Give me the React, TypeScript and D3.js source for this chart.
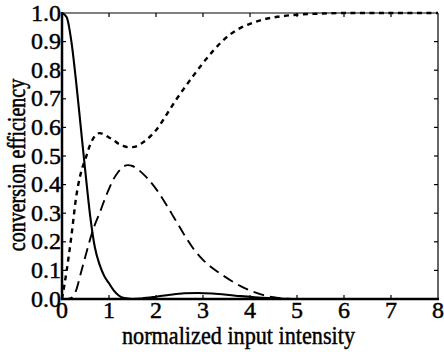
import React from "react";
import * as d3 from "d3";

const solidX = [0, 0.1, 0.2, 0.3, 0.4, 0.5, 0.6, 0.7, 0.8, 0.9, 1.0, 1.1, 1.2, 1.3, 1.5, 1.7, 2.0, 2.3, 2.6, 2.9, 3.2, 3.5, 3.8, 4.1, 4.4, 4.7, 5.0, 6, 7, 8];
const solidY = [1.0, 0.985, 0.9, 0.76, 0.6, 0.44, 0.29, 0.18, 0.12, 0.08, 0.055, 0.03, 0.013, 0.004, 0.0, 0.002, 0.008, 0.015, 0.02, 0.021, 0.019, 0.015, 0.01, 0.006, 0.003, 0.001, 0, 0, 0, 0];

const dashX = [0, 0.1, 0.2, 0.3, 0.4, 0.5, 0.6, 0.7, 0.8, 0.9, 1.0, 1.1, 1.2, 1.3, 1.4, 1.5, 1.6, 1.8, 2.0, 2.2, 2.4, 2.6, 2.8, 3.0, 3.2, 3.4, 3.6, 3.8, 4.0, 4.2, 4.4, 4.6, 4.8, 5.0, 6, 7, 8];
const dashY = [0, 0.0, 0.004, 0.03, 0.09, 0.15, 0.21, 0.26, 0.3, 0.345, 0.385, 0.42, 0.445, 0.462, 0.468, 0.465, 0.455, 0.425, 0.385, 0.335, 0.28, 0.225, 0.175, 0.137, 0.108, 0.085, 0.064, 0.045, 0.03, 0.018, 0.009, 0.004, 0.001, 0, 0, 0, 0];

const dotX = [0, 0.1, 0.2, 0.3, 0.4, 0.5, 0.6, 0.7, 0.8, 0.9, 1.0, 1.1, 1.2, 1.3, 1.4, 1.5, 1.6, 1.7, 1.8, 1.9, 2.0, 2.2, 2.4, 2.6, 2.8, 3.0, 3.2, 3.4, 3.6, 3.8, 4.0, 4.3, 4.6, 5.0, 5.5, 6, 7, 8];
const dotY = [0, 0.1, 0.22, 0.355, 0.44, 0.49, 0.54, 0.57, 0.58, 0.575, 0.565, 0.555, 0.543, 0.535, 0.531, 0.531, 0.535, 0.545, 0.557, 0.572, 0.59, 0.638, 0.69, 0.737, 0.782, 0.825, 0.865, 0.9, 0.928, 0.948, 0.962, 0.978, 0.987, 0.994, 0.998, 1, 1, 1];

const xTicks = [0, 1, 2, 3, 4, 5, 6, 7, 8];
const yTicks = [0, 0.1, 0.2, 0.3, 0.4, 0.5, 0.6, 0.7, 0.8, 0.9, 1.0];
const xLabel = "normalized input intensity";
const yLabel = "conversion efficiency";

const W = 444, H = 352;
const L = 62, R = 438, T = 13, B = 299;
const FONT = "'Liberation Serif', 'Times New Roman', serif";

export default function App() {
  const x = d3.scaleLinear().domain([0, 8]).range([L, R]);
  const y = d3.scaleLinear().domain([0, 1]).range([B, T]);
  const mk = (xs: number[], ys: number[]) =>
    d3.line<number>().x((_, i) => x(xs[i])).y((_, i) => y(ys[i])).curve(d3.curveMonotoneX)(xs) || "";
  const tk = 4;
  const txt = { fontFamily: FONT, fill: "#000", stroke: "#000", strokeWidth: 0.45 };
  return (
    <svg width={W} height={H} style={{ position: "absolute", left: 0, top: 0, background: "#fff" }}>
      <rect x={0} y={0} width={W} height={H} fill="#fff" />
      {/* frame */}
      <line x1={L} x2={R} y1={T} y2={T} stroke="#000" strokeWidth={1.2} />
      <line x1={R} x2={R} y1={T} y2={B} stroke="#000" strokeWidth={1.2} />
      {/* ticks */}
      {xTicks.slice(1, -1).map((t) => (
        <g key={"xt" + t}>
          <line x1={x(t)} x2={x(t)} y1={B} y2={B - tk} stroke="#000" strokeWidth={1.2} />
          <line x1={x(t)} x2={x(t)} y1={T} y2={T + tk} stroke="#000" strokeWidth={1.2} />
        </g>
      ))}
      {yTicks.slice(1, -1).map((t) => (
        <g key={"yt" + t}>
          <line x1={L} x2={L + tk} y1={y(t)} y2={y(t)} stroke="#000" strokeWidth={1.2} />
          <line x1={R} x2={R - tk} y1={y(t)} y2={y(t)} stroke="#000" strokeWidth={1.2} />
        </g>
      ))}
      {/* curves */}
      <path d={mk(dotX, dotY)} fill="none" stroke="#000" strokeWidth={2.4} strokeDasharray="5,4.5" />
      <path d={mk(dashX, dashY)} fill="none" stroke="#000" strokeWidth={1.9} strokeDasharray="11,6" />
      <path d={mk(solidX, solidY)} fill="none" stroke="#000" strokeWidth={2.1} />
      {/* left and bottom axes (thick) */}
      <line x1={L} x2={L} y1={T - 1} y2={B + 1} stroke="#000" strokeWidth={2.5} />
      <line x1={L - 1} x2={R + 1} y1={B} y2={B} stroke="#000" strokeWidth={2.5} />
      {/* tick labels */}
      {xTicks.map((t) => (
        <text key={"xl" + t} x={x(t)} y={318} textAnchor="middle" fontSize={24} {...txt}>
          {t}
        </text>
      ))}
      {yTicks.map((t) => (
        <text key={"yl" + t} x={L - 1} y={y(t) + 7.5} textAnchor="end" fontSize={24} {...txt}>
          {t.toFixed(1)}
        </text>
      ))}
      <text x={238.5} y={344} textAnchor="middle" fontSize={25} textLength={233} lengthAdjust="spacingAndGlyphs" {...txt}>
        {xLabel}
      </text>
      <text transform="translate(25,165) scale(1.3,1) rotate(-90)" textAnchor="middle" fontSize={20} {...txt}>
        {yLabel}
      </text>
    </svg>
  );
}
